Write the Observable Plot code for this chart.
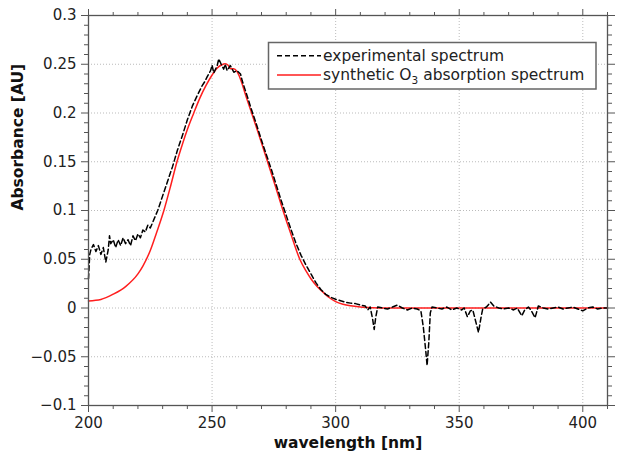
<!DOCTYPE html>
<html><head><meta charset="utf-8">
<script src="https://cdn.jsdelivr.net/npm/d3@7"></script>
<script src="https://cdn.jsdelivr.net/npm/@observablehq/plot@0.6"></script>
<style>html,body{margin:0;padding:0;background:#fff;}</style>
</head><body><div id="chart"></div>
<script>
// synthetic O3 absorption spectrum (smooth)
const synWavelength = [200, 205, 210, 215, 220, 222, 225, 227.5, 230.5, 233, 235.8, 238, 240, 242.6, 245, 247.5, 250, 252, 254, 255.3, 256.5, 257.5, 258.7, 260, 261, 262, 264, 266, 268.5, 272.2, 275.5, 278.7, 282, 285.5, 288, 290, 292.5, 295, 297.5, 300, 303, 306, 310, 315, 320, 350, 380, 410];
const synAbsorbance = [0.0073, 0.0088, 0.0142, 0.022, 0.035, 0.043, 0.059, 0.077, 0.1, 0.123, 0.15, 0.168, 0.183, 0.2, 0.215, 0.228, 0.239, 0.246, 0.2495, 0.2505, 0.249, 0.2455, 0.2455, 0.243, 0.238, 0.231, 0.215, 0.2, 0.181, 0.152, 0.126, 0.1, 0.075, 0.05, 0.038, 0.03, 0.022, 0.016, 0.0105, 0.0065, 0.0038, 0.0022, 0.001, 0.0003, 0, 0, 0, 0];

// experimental spectrum (noisy)
const expWavelength = [200, 200.5, 201, 202, 203, 204, 205, 206, 207, 208, 208.5, 209, 210, 211, 212, 213, 214, 215, 216, 217, 218, 219, 220, 221, 222, 223, 224, 225, 226, 228, 230, 232, 234, 236, 238, 240, 242, 244, 246, 247, 248, 249.4, 250, 250.7, 252.1, 252.7, 253.7, 254.7, 255.3, 256.1, 257.4, 258.8, 260.1, 261.5, 262.2, 264, 266, 268, 270, 272, 274, 276, 278, 280, 282, 284, 286, 288, 290, 292, 294, 296, 298, 300, 302, 304, 306, 308, 310, 312, 313, 314, 315, 315.6, 316.2, 317, 319, 321, 323, 325, 327, 329, 331, 333, 334.5, 335.5, 336.5, 337, 337.7, 338.3, 339, 341, 343, 345, 347, 349, 351, 352, 353.3, 354.5, 355.5, 356.5, 357.8, 358.8, 359.5, 361, 362.7, 364, 366, 368, 370, 372, 373.5, 375.3, 376.5, 378, 379, 380.7, 382, 384, 386, 388, 390, 392, 394, 396, 398, 400, 402, 404, 406, 408, 410];
const expAbsorbance = [0.03, 0.055, 0.06, 0.065, 0.058, 0.064, 0.055, 0.062, 0.047, 0.06, 0.074, 0.066, 0.07, 0.062, 0.07, 0.064, 0.072, 0.066, 0.07, 0.064, 0.074, 0.069, 0.076, 0.072, 0.08, 0.078, 0.085, 0.082, 0.088, 0.1, 0.115, 0.13, 0.145, 0.162, 0.177, 0.193, 0.207, 0.218, 0.228, 0.232, 0.237, 0.2435, 0.249, 0.241, 0.249, 0.2555, 0.25, 0.245, 0.25, 0.2435, 0.2487, 0.2418, 0.2435, 0.24, 0.233, 0.219, 0.203, 0.188, 0.172, 0.157, 0.142, 0.126, 0.11, 0.095, 0.08, 0.066, 0.054, 0.044, 0.035, 0.026, 0.019, 0.014, 0.011, 0.009, 0.0075, 0.006, 0.005, 0.0045, 0.003, 0.002, -0.002, 0.001, -0.012, -0.022, -0.01, 0.001, 0.0, -0.001, 0.001, 0.003, 0.0, -0.002, 0.0, -0.001, -0.003, -0.02, -0.045, -0.059, -0.035, -0.005, 0.001, 0.0, -0.001, 0.001, -0.002, 0.0, -0.002, 0.0, -0.009, -0.003, -0.002, -0.012, -0.025, -0.01, -0.001, 0.001, 0.006, 0.002, 0.0, -0.001, 0.0, -0.002, 0.0, -0.008, -0.002, 0.001, -0.002, -0.01, 0.002, 0.0, -0.001, 0.0, 0.001, -0.001, 0.0, 0.001, -0.001, -0.003, 0.0, 0.001, -0.001, 0.0, 0.0];

const xTicks = [200, 250, 300, 350, 400];
const yTicks = [-0.1, -0.05, 0, 0.05, 0.1, 0.15, 0.2, 0.25, 0.3];
const xMinorTicks = [210, 220, 230, 240, 260, 270, 280, 290, 310, 320, 330, 340, 360, 370, 380, 390, 410];
const yMinorTicks = d3.range(-10, 31).map(i => i / 100).filter(v => !yTicks.some(t => Math.abs(t - v) < 1e-9));

const xLabel = "wavelength [nm]";
const yLabel = "Absorbance [AU]";
const legendLabels = ["experimental spectrum", "synthetic O", "3", " absorption spectrum"];

const synData = synWavelength.map((w, i) => ({w, a: synAbsorbance[i]}));
const expData = expWavelength.map((w, i) => ({w, a: expAbsorbance[i]}));

const fmtY = d => Math.abs(d) < 1e-12 ? "0" : String(+d.toFixed(2)).replace("-", "\u2212");
const axisColor = "#555";
const blank = () => "";

const plot = Plot.plot({
  width: 617, height: 455,
  marginLeft: 88, marginRight: 10, marginTop: 15, marginBottom: 50,
  x: {domain: [200, 410], label: null},
  y: {domain: [-0.1, 0.3], label: null},
  style: {fontFamily: "'DejaVu Sans', sans-serif", fontSize: "15px", color: "#222", background: "#fff"},
  marks: [
    Plot.gridX(xTicks.filter(d => d > 200 && d < 410), {stroke: "#aaa", strokeOpacity: 1, strokeWidth: 0.8, strokeDasharray: "1,2"}),
    Plot.gridY(yTicks.filter(d => d > -0.1 && d < 0.3), {stroke: "#aaa", strokeOpacity: 1, strokeWidth: 0.8, strokeDasharray: "1,2"}),
    Plot.line(synData, {x: "w", y: "a", stroke: "#ff1e1e", strokeWidth: 1.5, curve: "monotone-x"}),
    Plot.line(expData, {x: "w", y: "a", stroke: "#000", strokeWidth: 1.5, strokeDasharray: "5,3"}),
    Plot.frame({stroke: axisColor, strokeWidth: 1.3}),
    Plot.axisX({ticks: xTicks, anchor: "bottom", tickSize: 7, tickPadding: 5, label: null, stroke: axisColor, fill: "#222", fontSize: 15}),
    Plot.axisX({ticks: xMinorTicks, anchor: "bottom", tickSize: 4, tickFormat: blank, label: null, stroke: axisColor}),
    Plot.axisX({ticks: xTicks, anchor: "top", tickSize: 7, tickFormat: blank, label: null, stroke: axisColor}),
    Plot.axisX({ticks: xMinorTicks, anchor: "top", tickSize: 4, tickFormat: blank, label: null, stroke: axisColor}),
    Plot.axisY({ticks: yTicks, anchor: "left", tickSize: 7, tickPadding: 5, tickFormat: fmtY, label: null, stroke: axisColor, fill: "#222", fontSize: 15}),
    Plot.axisY({ticks: yMinorTicks, anchor: "left", tickSize: 4, tickFormat: blank, label: null, stroke: axisColor}),
    Plot.axisY({ticks: yTicks, anchor: "right", tickSize: 7, tickFormat: blank, label: null, stroke: axisColor}),
    Plot.axisY({ticks: yMinorTicks, anchor: "right", tickSize: 4, tickFormat: blank, label: null, stroke: axisColor}),
    Plot.text([xLabel], {text: d => d, frameAnchor: "bottom", dy: 38, lineAnchor: "middle", fontWeight: "bold", fontSize: 15.5, fill: "#111"}),
    Plot.text([yLabel], {text: d => d, frameAnchor: "left", dx: -70, rotate: -90, lineAnchor: "middle", fontWeight: "bold", fontSize: 15.5, fill: "#111"})
  ]
});

const svg = d3.select(plot);
const lg = svg.append("g").attr("font-family", "'DejaVu Sans', sans-serif").attr("font-size", 15.5)
  .attr("fill", "#222").attr("text-anchor", "start");
lg.append("rect").attr("x", 268.5).attr("y", 42.5).attr("width", 327.5).attr("height", 46.5)
  .attr("fill", "#fff").attr("stroke", "#666").attr("stroke-width", 1.5);
lg.append("line").attr("x1", 277).attr("x2", 321).attr("y1", 55.7).attr("y2", 55.7)
  .attr("stroke", "#000").attr("stroke-width", 1.5).attr("stroke-dasharray", "5,3");
lg.append("line").attr("x1", 277).attr("x2", 321).attr("y1", 75).attr("y2", 75)
  .attr("stroke", "#ff1e1e").attr("stroke-width", 1.5);
lg.append("text").attr("x", 323).attr("y", 55.7).attr("dy", "0.35em").attr("text-anchor", "start").text(legendLabels[0]);
const t2 = lg.append("text").attr("x", 323).attr("y", 75).attr("dy", "0.35em").attr("text-anchor", "start");
t2.append("tspan").text(legendLabels[1]);
t2.append("tspan").attr("font-size", 10.5).attr("dy", 4).text(legendLabels[2]);
t2.append("tspan").attr("dy", -4).text(legendLabels[3]);

document.getElementById("chart").appendChild(plot);
</script>
</body></html>
